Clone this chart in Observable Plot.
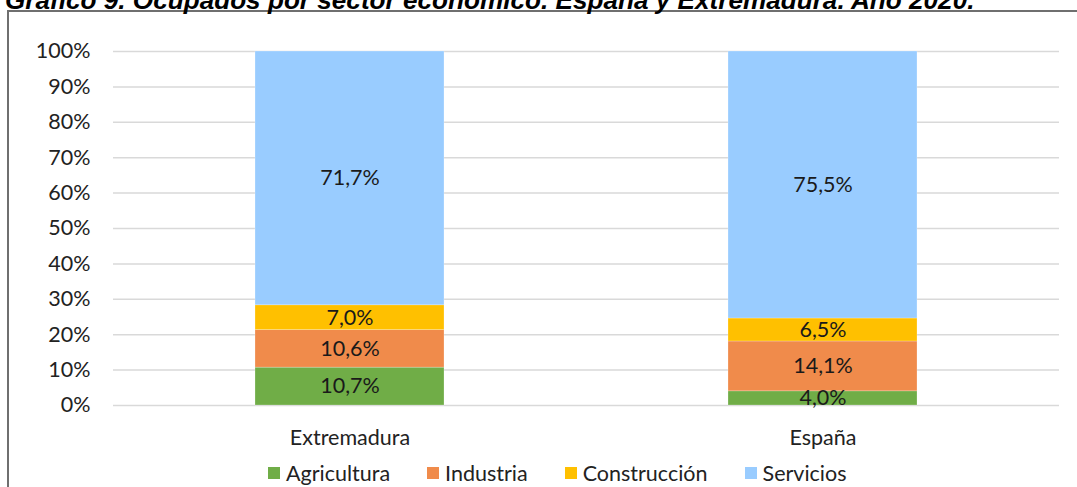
<!DOCTYPE html>
<html>
<head>
<meta charset="utf-8">
<script src="https://cdn.jsdelivr.net/npm/d3@7"></script>
<script src="https://cdn.jsdelivr.net/npm/@observablehq/plot@0.6"></script>
<style>
  html, body { margin: 0; padding: 0; background: #fff; overflow: hidden; }
  #wrap { position: relative; width: 1077px; height: 487px; overflow: hidden; }
  #title { position: absolute; left: 5px; top: -15px; white-space: nowrap;
    font-family: "Liberation Sans", Arial, sans-serif; font-weight: bold; font-style: italic;
    font-size: 22px; color: #000; }
  #box { position: absolute; left: 7px; top: 10px; width: 1200px; height: 600px;
    border: 2px solid #6f6f6f; box-sizing: border-box; }
  #chart { position: absolute; left: 0; top: 0; }
  #legend { position: absolute; top: 460px; left: 268px; display: flex; align-items: center;
    font-family: Lato, "Open Sans", sans-serif; font-size: 21.5px; color: #222; line-height: 26px; }
  #legend .item { display: flex; align-items: center; margin-right: 37px; }
  #legend .sw { width: 12px; height: 12px; margin-right: 6px; }
</style>
</head>
<body>
<div id="wrap">
  <div id="box"></div>
  <div id="title">Gráfico 9. Ocupados por sector económico. España y Extremadura. Año 2020.</div>
  <div id="chart"></div>
  <div id="legend"></div>
</div>
<script>
const regions = ["Extremadura", "España"];
const sectors = ["Agricultura", "Industria", "Construcción", "Servicios"];
const colors = ["#70ad47", "#f08b4b", "#ffc000", "#99ccff"];
const extremadura = [10.7, 10.6, 7.0, 71.7];
const espana = [4.0, 14.1, 6.5, 75.5];
const yTicks = [0, 0.1, 0.2, 0.3, 0.4, 0.5, 0.6, 0.7, 0.8, 0.9, 1.0];

const series = [extremadura, espana];
const data = [];
regions.forEach((r, i) => sectors.forEach((s, j) => data.push({region: r, sector: s, value: series[i][j]})));

const fmt = v => v.toFixed(1).replace(".", ",") + "%";

const chart = Plot.plot({
  width: 1077,
  height: 455,
  marginTop: 51,
  marginBottom: 50,
  marginLeft: 113,
  marginRight: 18,
  style: { fontFamily: "Lato, 'Open Sans', sans-serif", fontSize: "21.5px", color: "#222", background: "transparent" },
  x: { domain: regions, paddingInner: 0.6, paddingOuter: 0.3, label: null },
  y: { domain: [0, 1], label: null },
  color: { domain: sectors, range: colors },
  marks: [
    Plot.gridY(yTicks, { stroke: "#d9d9d9", strokeOpacity: 1, strokeWidth: 1.5 }),
    Plot.barY(data, Plot.stackY({ offset: "normalize", order: sectors, x: "region", y: "value", fill: "sector", stroke: "#fff", strokeOpacity: 0.4, strokeWidth: 0.6 })),
    Plot.text(data, Plot.stackY({ offset: "normalize", order: sectors, x: "region", y: "value", z: "sector", text: d => fmt(d.value), fill: "#1a1a1a", fontSize: 21.5 })),
    Plot.axisY(yTicks, { tickFormat: d => Math.round(d * 100) + "%", tickSize: 0, tickPadding: 23, fontSize: 21.5, fill: "#222" }),
    Plot.axisX({ tickSize: 0, tickPadding: 24, fontSize: 21.5, fill: "#222" })
  ]
});
document.getElementById("chart").appendChild(chart);

const leg = document.getElementById("legend");
sectors.forEach((s, i) => {
  const it = document.createElement("div");
  it.className = "item";
  const sw = document.createElement("div");
  sw.className = "sw";
  sw.style.background = colors[i];
  it.appendChild(sw);
  it.appendChild(document.createTextNode(s));
  leg.appendChild(it);
});

// fit title width to ~970px
const t = document.getElementById("title");
const w = t.getBoundingClientRect().width;
t.style.fontSize = (22 * 970 / w) + "px";
</script>
</body>
</html>
